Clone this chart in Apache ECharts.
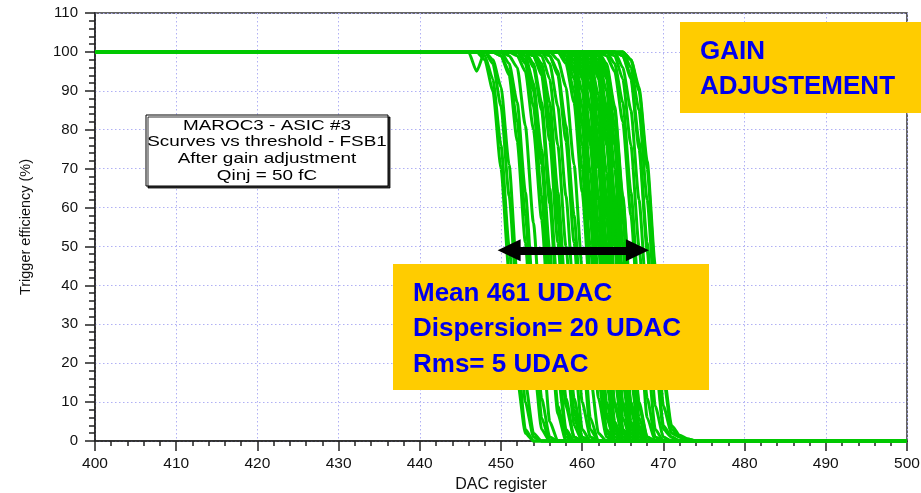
<!DOCTYPE html>
<html>
<head>
<meta charset="utf-8">
<script src="https://cdn.jsdelivr.net/npm/echarts@6/dist/echarts.min.js"></script>
<style>
  html, body { margin: 0; padding: 0; background: #ffffff; }
  #chart { width: 921px; height: 493px; }
</style>
</head>
<body>
<div id="chart"></div>
<script>
// Axis ranges (DAC units and trigger efficiency in %)
const dacRange = [400, 500];
const dacStep = 10;
const effRange = [0, 110];
const effStep = 10;

// S-curves, one per channel: [first DAC of the falling edge, efficiency (%) at that DAC, next DAC, ...]
// Efficiency is 100 % below the first DAC and 0 % after the last listed value.
const channelsLow = [
  [448, 98, 90, 70, 43, 16, 2],
  [448, 99, 93, 76, 50, 22, 3],
  [447, 95, 100, 97, 86, 63, 36, 10, 1],
  [449, 98, 91, 71, 42, 15, 2],
  [450, 99, 94, 77, 51, 21, 3],
  [450, 99, 95, 82, 58, 30, 6],
  [451, 97, 87, 64, 37, 11, 1],
  [451, 99, 96, 81, 56, 28, 5]
];
const channelsMidLow = [
  [452, 99, 95, 80, 57, 29, 7],
  [453, 97, 86, 63, 35, 9, 1],
  [453, 98, 90, 71, 44, 17, 2],
  [453, 99, 92, 75, 49, 21, 3],
  [454, 96, 85, 61, 34, 9, 1],
  [454, 97, 87, 65, 38, 11, 1],
  [454, 99, 94, 77, 51, 23, 4],
  [454, 99, 95, 81, 57, 29, 6],
  [454, 99, 96, 83, 60, 32, 8],
  [455, 97, 87, 64, 37, 11, 1],
  [455, 99, 93, 76, 50, 22, 3],
  [456, 97, 86, 63, 36, 10, 1],
  [456, 99, 94, 77, 51, 23, 3],
  [456, 99, 95, 81, 58, 30, 6],
  [457, 98, 91, 71, 44, 17, 2]
];
const channelsMidHigh = [
  [458, 97, 87, 64, 37, 11, 1],
  [458, 98, 90, 70, 43, 16, 2],
  [458, 99, 93, 76, 50, 22, 3],
  [458, 99, 95, 81, 57, 29, 6],
  [458, 99, 96, 82, 59, 31, 7],
  [459, 97, 86, 63, 36, 10, 1],
  [459, 98, 90, 69, 42, 15, 2],
  [459, 99, 94, 77, 51, 23, 4],
  [459, 99, 93, 76, 50, 22, 3],
  [459, 99, 95, 80, 56, 28, 5],
  [460, 96, 85, 62, 34, 9, 1],
  [460, 97, 86, 63, 36, 10, 1],
  [460, 98, 90, 70, 43, 16, 2],
  [460, 98, 91, 72, 46, 18, 3],
  [460, 99, 94, 77, 51, 23, 3],
  [460, 99, 93, 75, 49, 21, 3],
  [460, 99, 95, 81, 57, 29, 6],
  [461, 96, 85, 61, 34, 9, 1],
  [461, 97, 86, 63, 36, 10, 1],
  [461, 98, 89, 69, 42, 15, 2],
  [461, 99, 94, 77, 52, 24, 4],
  [461, 99, 93, 76, 50, 22, 3],
  [461, 99, 95, 80, 56, 28, 5],
  [461, 99, 96, 83, 60, 33, 8],
  [462, 96, 85, 62, 35, 9, 1],
  [462, 97, 86, 63, 36, 10, 1],
  [462, 98, 90, 70, 43, 16, 2],
  [462, 99, 94, 77, 51, 23, 4],
  [462, 99, 93, 76, 50, 22, 3],
  [462, 99, 95, 81, 57, 29, 6],
  [463, 96, 85, 62, 34, 9, 1],
  [463, 97, 86, 63, 36, 10, 1]
];
const channelsHigh = [
  [463, 99, 95, 82, 58, 30, 6],
  [464, 97, 87, 64, 37, 11, 1],
  [464, 99, 93, 76, 50, 22, 3],
  [465, 96, 85, 62, 35, 9, 1],
  [465, 99, 94, 77, 51, 23, 4, 1],
  [465, 99, 93, 75, 49, 21, 3, 1],
  [466, 96, 85, 62, 35, 9, 2, 1],
  [466, 98, 90, 70, 43, 16, 3, 1, 0.5],
  [466, 98, 91, 72, 45, 18, 4, 1.5, 0.5]
];

// Double arrow marking the threshold spread (shaft ends, DAC) and its height (%)
const spreadShaft = [451.0, 466.8];
const spreadLevel = 49;

const summaryLines = ['Mean 461 UDAC', 'Dispersion= 20 UDAC', 'Rms= 5 UDAC'];
const titleLines = ['GAIN', 'ADJUSTEMENT'];
const infoLines = ['MAROC3 - ASIC #3', 'Scurves vs threshold - FSB1', 'After gain adjustment', 'Qinj = 50 fC'];

const allChannels = channelsLow.concat(channelsMidLow, channelsMidHigh, channelsHigh);

function curvePoints(ch) {
  const start = ch[0];
  const vals = ch.slice(1);
  const pts = [[dacRange[0], 100], [start - 1, 100]];
  vals.forEach((v, i) => pts.push([start + i, v]));
  pts.push([start + vals.length, 0]);
  pts.push([dacRange[1], 0]);
  return pts;
}

const FONT = '"Liberation Sans", Arial, sans-serif';
const GREEN = '#00c800';

const series = allChannels.map(ch => ({
  type: 'line',
  data: curvePoints(ch),
  showSymbol: false,
  symbol: 'none',
  smooth: 0.2,
  smoothMonotone: 'x',
  clip: false,
  silent: true,
  animation: false,
  lineStyle: { color: GREEN, width: 3 },
  z: 3
}));

series.push({
  type: 'line',
  data: [],
  silent: true,
  animation: false,
  z: 5,
  markLine: {
    silent: true,
    animation: false,
    symbol: ['triangle', 'triangle'],
    symbolSize: [22, 23],
    label: { show: false },
    lineStyle: { color: '#000', width: 8, type: 'solid' },
    data: [[
      { coord: [spreadShaft[0], spreadLevel] },
      { coord: [spreadShaft[1], spreadLevel] }
    ]]
  }
});

const chart = echarts.init(document.getElementById('chart'), null, { renderer: 'canvas' });

chart.setOption({
  animation: false,
  backgroundColor: '#ffffff',
  grid: {
    left: 95, right: 14, top: 13, bottom: 52,
    outerBoundsMode: 'none',
    containLabel: false,
    show: true, borderColor: '#333', borderWidth: 1.5, backgroundColor: 'transparent'
  },
  xAxis: {
    type: 'value',
    min: dacRange[0], max: dacRange[1], interval: dacStep,
    name: 'DAC register',
    nameLocation: 'middle',
    nameGap: 33,
    nameTextStyle: { fontFamily: FONT, fontSize: 16, color: '#111' },
    axisLine: { show: true, onZero: false, lineStyle: { color: '#222', width: 1.5 } },
    axisTick: { show: true, inside: false, length: 10, lineStyle: { color: '#222', width: 1.5 } },
    minorTick: { show: true, splitNumber: 5, length: 5, lineStyle: { color: '#222', width: 1.5 } },
    axisLabel: { fontFamily: FONT, fontSize: 15.5, color: '#111', margin: 15 },
    splitLine: { show: true, lineStyle: { color: '#b0b0f4', width: 1, type: [1.5, 2.5] } }
  },
  yAxis: {
    type: 'value',
    min: effRange[0], max: effRange[1], interval: effStep,
    name: 'Trigger efficiency (%)',
    nameLocation: 'middle',
    nameGap: 62,
    nameTextStyle: { fontFamily: FONT, fontSize: 14.5, color: '#111' },
    axisLine: { show: true, onZero: false, lineStyle: { color: '#222', width: 1.5 } },
    axisTick: { show: true, inside: false, length: 10, lineStyle: { color: '#222', width: 1.5 } },
    minorTick: { show: true, splitNumber: 5, length: 6, lineStyle: { color: '#222', width: 1.5 } },
    axisLabel: { fontFamily: FONT, fontSize: 15, color: '#111', margin: 17 },
    splitLine: { show: true, lineStyle: { color: '#b0b0f4', width: 1, type: [1.5, 2.5] } }
  },
  series: series,
  graphic: [
    {
      type: 'rect', z: 50,
      shape: { x: 146, y: 115, width: 242, height: 71 },
      style: { fill: '#ffffff', stroke: '#000', lineWidth: 1,
               shadowColor: 'rgba(0,0,0,0.8)', shadowOffsetX: 2, shadowOffsetY: 2, shadowBlur: 0 }
    },
    {
      type: 'text', z: 51, x: 267, y: 150.5, scaleX: 1.26,
      style: { text: infoLines.join('\n'), font: '15px ' + FONT, fill: '#000',
               align: 'center', verticalAlign: 'middle', lineHeight: 16.7 }
    },
    {
      type: 'rect', z: 60,
      shape: { x: 680, y: 22, width: 241, height: 91 },
      style: { fill: '#ffcc00' }
    },
    {
      type: 'text', z: 61, x: 700, y: 69.5,
      style: { text: titleLines.join('\n'), font: 'bold 26px ' + FONT, fill: '#0000ee',
               align: 'left', verticalAlign: 'middle', lineHeight: 34.5 }
    },
    {
      type: 'rect', z: 60,
      shape: { x: 393, y: 264, width: 316, height: 126 },
      style: { fill: '#ffcc00' }
    },
    {
      type: 'text', z: 61, x: 413, y: 329,
      style: { text: summaryLines.join('\n'), font: 'bold 26px ' + FONT, fill: '#0000ee',
               align: 'left', verticalAlign: 'middle', lineHeight: 35.5 }
    }
  ]
});
</script>
</body>
</html>
